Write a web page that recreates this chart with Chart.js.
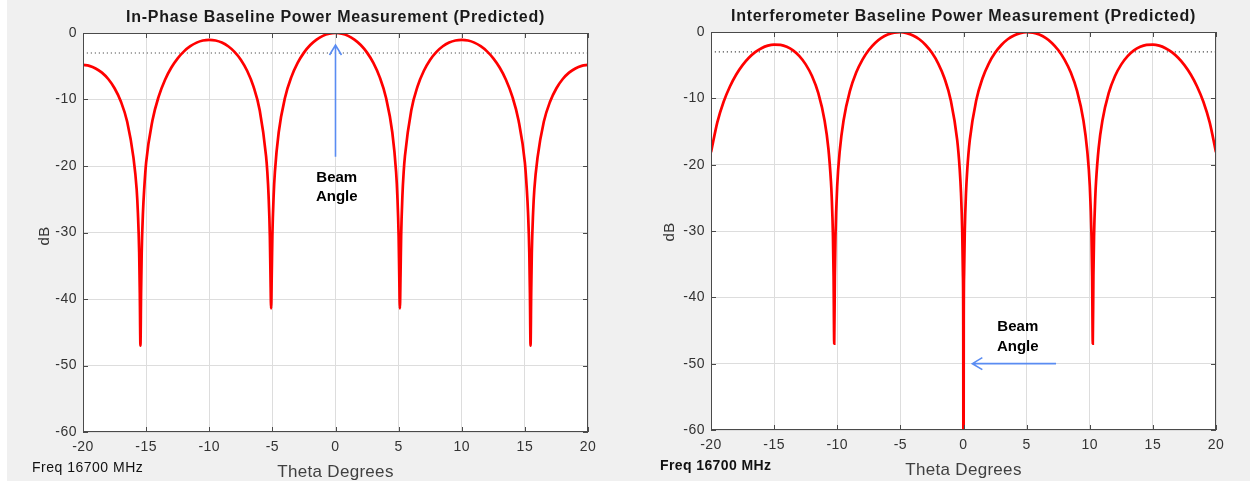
<!DOCTYPE html>
<html><head><meta charset="utf-8">
<script src="https://cdn.jsdelivr.net/npm/chart.js@4.4.1/dist/chart.umd.min.js"></script>
<style>
html,body{margin:0;padding:0;background:#f0f0f0;}
body{width:1250px;height:481px;position:relative;overflow:hidden;}
#strip{position:absolute;left:0;top:0;width:7px;height:481px;background:#fff;}
.wrap{position:absolute;top:0;width:625px;height:481px;}
#w1{left:0;}
#w2{left:625px;}
canvas{display:block;}
</style></head><body>
<div id="strip"></div>
<div class="wrap" id="w1"><canvas id="c1" width="625" height="481"></canvas></div>
<div class="wrap" id="w2"><canvas id="c2" width="625" height="481"></canvas></div>
<script>
// ---------- data ----------
const xTickValues = [-20,-15,-10,-5,0,5,10,15,20];
const yTickValues = [0,-10,-20,-30,-40,-50,-60];

const thetaInPhase = [-20,-19.5,-19,-18.5,-18,-17.5,-17,-16.5,-16,-15.75,-15.65,-15.55,-15.5,-15.45,-15.4,-15.35,-15.25,-15.15,-15,-14.5,-14,-13.5,-13,-12.5,-12,-11.5,-11,-10.5,-10,-9.5,-9,-8.5,-8,-7.5,-7,-6.5,-6,-5.5,-5.4,-5.3,-5.2,-5.15,-5.1,-5.05,-5,-4.9,-4.8,-4.5,-4,-3.5,-3,-2.5,-2,-1.5,-1,-0.5,
  0,0.5,1,1.5,2,2.5,3,3.5,4,4.5,4.8,4.9,5,5.05,5.1,5.15,5.2,5.3,5.4,5.5,6,6.5,7,7.5,8,8.5,9,9.5,10,10.5,11,11.5,12,12.5,13,13.5,14,14.5,15,15.15,15.25,15.35,15.4,15.45,15.5,15.55,15.65,15.75,16,16.5,17,17.5,18,18.5,19,19.5,20];
const inPhaseDb = [-4.80,-4.95,-5.33,-5.96,-6.92,-8.31,-10.30,-13.35,-18.79,-23.5,-27.1,-33.0,-39.1,-47.0,-39.1,-33.0,-27.0,-23.4,-19.49,-13.15,-9.52,-7.02,-5.19,-3.81,-2.76,-1.99,-1.45,-1.13,-1.02,-1.12,-1.44,-1.99,-2.83,-4.01,-5.68,-8.02,-11.64,-18.5,-20.9,-24.5,-30.5,-36.5,-41.4,-36.5,-30.5,-24.5,-20.9,-14.96,-9.73,-6.64,-4.50,-2.95,-1.81,-0.99,-0.43,-0.11,
  0,-0.11,-0.43,-0.99,-1.81,-2.95,-4.50,-6.64,-9.73,-14.96,-20.9,-24.5,-30.5,-36.5,-41.4,-36.5,-30.5,-24.5,-20.9,-18.5,-11.64,-8.02,-5.68,-4.01,-2.83,-1.99,-1.44,-1.12,-1.02,-1.13,-1.45,-1.99,-2.76,-3.81,-5.19,-7.02,-9.52,-13.15,-19.49,-23.4,-27.0,-33.0,-39.1,-47.0,-39.1,-33.0,-27.1,-23.5,-18.79,-13.35,-10.30,-8.31,-6.92,-5.96,-5.33,-4.95,-4.80];

const thetaInterf = [-20,-19.5,-19,-18.5,-18,-17.5,-17,-16.5,-16,-15.5,-15,-14.5,-14,-13.5,-13,-12.5,-12,-11.5,-11,-10.7,-10.5,-10.44,-10.34,-10.29,-10.24,-10.19,-10.14,-10,-9.8,-9.5,-9,-8.5,-8,-7.5,-7,-6.5,-6,-5.5,-5,-4.5,-4,-3.5,-3,-2.5,-2,-1.5,-1,-0.5,-0.3,-0.2,-0.1,-0.05,-0.02,
  0,0.02,0.05,0.1,0.2,0.3,0.5,1,1.5,2,2.5,3,3.5,4,4.5,5,5.5,6,6.5,7,7.5,8,8.5,9,9.5,9.8,10,10.14,10.19,10.24,10.29,10.34,10.44,10.5,10.7,11,11.5,12,12.5,13,13.5,14,14.5,15,15.5,16,16.5,17,17.5,18,18.5,19,19.5,20];
const interferometerDb = [-18.14,-13.62,-10.52,-8.21,-6.41,-4.99,-3.89,-3.04,-2.44,-2.05,-1.89,-1.94,-2.23,-2.78,-3.64,-4.88,-6.64,-9.22,-13.37,-17.6,-22.53,-24.8,-30.8,-36.8,-47.0,-36.8,-30.8,-23.1,-17.9,-13.33,-8.92,-6.12,-4.16,-2.72,-1.65,-0.90,-0.39,-0.10,-0.03,-0.17,-0.52,-1.10,-1.96,-3.14,-4.76,-7.01,-10.36,-16.27,-20.7,-24.2,-30.2,-36.2,-44.2,
  -80,-44.2,-36.2,-30.2,-24.2,-20.7,-16.27,-10.36,-7.01,-4.76,-3.14,-1.96,-1.10,-0.52,-0.17,-0.03,-0.10,-0.39,-0.90,-1.65,-2.72,-4.16,-6.12,-8.92,-13.33,-17.9,-23.1,-30.8,-36.8,-47.0,-36.8,-30.8,-24.8,-22.53,-17.6,-13.37,-9.22,-6.64,-4.88,-3.64,-2.78,-2.23,-1.94,-1.89,-2.05,-2.44,-3.04,-3.89,-4.99,-6.41,-8.21,-10.52,-13.62,-18.14];

const halfPowerDb = -3;
const halfPowerTheta = [-19.7, 20];

const titles = ['In-Phase Baseline Power Measurement (Predicted)', 'Interferometer Baseline Power Measurement (Predicted)'];
const xLabelText = 'Theta Degrees';
const yLabelText = 'dB';
const freqText = 'Freq 16700 MHz';
const beamLines = ['Beam', 'Angle'];

// annotation anchors in data units (theta, dB)
const beamArrowLeft = {from:[0,-18.6], to:[0,-1.8], text:[0.1,-21.8,-24.7]};
const beamArrowRight = {from:[7.33,-50], to:[0.7,-50], text:[4.3,-44.5,-47.5]};

// ---------- drawing ----------
const FONT = '"Liberation Sans", Arial, sans-serif';

function figPlugin(o){
  return {
    id:'fig'+o.key,
    beforeDraw(chart){
      const {ctx, chartArea:a} = chart;
      ctx.save();
      ctx.fillStyle = '#ffffff';
      ctx.fillRect(a.left, a.top, a.right-a.left, a.bottom-a.top);
      ctx.restore();
      ctx.letterSpacing = '0.5px';
    },
    afterDraw(chart){
      const {ctx, chartArea:a, scales:{x, y}} = chart;
      ctx.save();
      // box
      ctx.strokeStyle = '#4a4a4a';
      ctx.lineWidth = 1;
      ctx.strokeRect(a.left+0.5, a.top+0.5, a.right-a.left-1, a.bottom-a.top-1);
      // inward ticks
      ctx.beginPath();
      xTickValues.forEach(v=>{
        const px = Math.round(x.getPixelForValue(v))+0.5;
        ctx.moveTo(px, a.bottom); ctx.lineTo(px, a.bottom-5);
        ctx.moveTo(px, a.top); ctx.lineTo(px, a.top+5);
      });
      yTickValues.forEach(v=>{
        const py = Math.round(y.getPixelForValue(v))+0.5;
        ctx.moveTo(a.left, py); ctx.lineTo(a.left+5, py);
        ctx.moveTo(a.right, py); ctx.lineTo(a.right-5, py);
      });
      ctx.stroke();

      const cx = (a.left+a.right)/2;
      // title
      ctx.fillStyle = '#1a1a1a';
      ctx.font = 'bold 16px '+FONT;
      ctx.letterSpacing = '0.72px';
      ctx.textAlign = 'center';
      ctx.textBaseline = 'middle';
      ctx.fillText(o.title, cx, o.titleY);
      // x label
      ctx.font = '17px '+FONT;
      ctx.letterSpacing = '0.3px';
      ctx.fillStyle = '#404040';
      ctx.fillText(xLabelText, cx, o.xLabelY);
      // freq
      ctx.font = o.freqFont;
      ctx.letterSpacing = o.freqSpacing;
      ctx.fillStyle = '#111111';
      ctx.textAlign = 'left';
      ctx.fillText(freqText, o.freqX, o.freqY);
      // y label
      ctx.save();
      ctx.translate(o.yLabelX, o.yLabelY);
      ctx.rotate(-Math.PI/2);
      ctx.font = '15px '+FONT;
      ctx.letterSpacing = '0.3px';
      ctx.fillStyle = '#333333';
      ctx.textAlign = 'center';
      ctx.fillText(yLabelText, 0, 0);
      ctx.restore();

      // beam angle annotation
      const an = o.ann;
      const x1 = x.getPixelForValue(an.from[0]), y1 = y.getPixelForValue(an.from[1]);
      const x2 = x.getPixelForValue(an.to[0]), y2 = y.getPixelForValue(an.to[1]);
      ctx.strokeStyle = '#5a8cf2';
      ctx.lineWidth = 1.6;
      ctx.beginPath();
      ctx.moveTo(x1, y1); ctx.lineTo(x2, y2);
      const ang = Math.atan2(y2-y1, x2-x1);
      const L = 10, W = 6;
      const bx = x2 - L*Math.cos(ang), by = y2 - L*Math.sin(ang);
      ctx.moveTo(bx + W*Math.sin(ang), by - W*Math.cos(ang));
      ctx.lineTo(x2, y2);
      ctx.lineTo(bx - W*Math.sin(ang), by + W*Math.cos(ang));
      ctx.stroke();
      ctx.fillStyle = '#000000';
      ctx.font = 'bold 15px '+FONT;
      ctx.letterSpacing = '0px';
      ctx.textAlign = 'center';
      ctx.textBaseline = 'middle';
      const tx = x.getPixelForValue(an.text[0]);
      ctx.fillText(beamLines[0], tx, y.getPixelForValue(an.text[1]));
      ctx.fillText(beamLines[1], tx, y.getPixelForValue(an.text[2]));
      ctx.restore();
    }
  };
}

function makeChart(id, theta, db, o){
  const tickFont = {family:FONT, size:14};
  return new Chart(document.getElementById(id), {
    type:'line',
    data:{datasets:[
      {data: theta.map((t,i)=>({x:t, y:db[i]})), borderColor:'#ff0000', borderWidth:2.7,
       pointRadius:0, cubicInterpolationMode:'monotone', clip:0, order:0, fill:false},
      {data: halfPowerTheta.map(t=>({x:t, y:halfPowerDb})), borderColor:'#505050', borderWidth:1.1,
       borderDash:[1.2,2.8], pointRadius:0, clip:0, order:1, fill:false}
    ]},
    options:{
      responsive:false, animation:false, events:[],
      layout:{padding:{left:0, right:o.padR, top:o.top, bottom:o.padB}},
      plugins:{legend:{display:false}, tooltip:{enabled:false}, title:{display:false}},
      scales:{
        x:{type:'linear', min:-20, max:20,
           afterBuildTicks:s=>{s.ticks = xTickValues.map(v=>({value:v}));},
           afterFit:s=>{s.height = 20;},
           grid:{color:'#dddddd', drawTicks:false}, border:{display:false},
           ticks:{color:'#333333', font:tickFont, padding:7, maxRotation:0, autoSkip:false}},
        y:{type:'linear', min:-60, max:0,
           afterBuildTicks:s=>{s.ticks = yTickValues.map(v=>({value:v}));},
           afterFit:s=>{s.width = o.left;},
           grid:{color:'#dddddd', drawTicks:false}, border:{display:false},
           ticks:{color:'#333333', font:tickFont, padding:6}}
      }
    },
    plugins:[figPlugin(o)]
  });
}

makeChart('c1', thetaInPhase, inPhaseDb, {
  key:1, left:83, padR:625-588, top:33, padB:481-432-20,
  title:titles[0], titleY:18, xLabelY:472, yLabelX:45, yLabelY:236,
  freqX:32, freqY:468, freqFont:'14px '+FONT, freqSpacing:'0.5px',
  ann:beamArrowLeft
});
makeChart('c2', thetaInterf, interferometerDb, {
  key:2, left:86, padR:625-591, top:32, padB:481-430-20,
  title:titles[1], titleY:17, xLabelY:470, yLabelX:45, yLabelY:232,
  freqX:35, freqY:466, freqFont:'bold 14px '+FONT, freqSpacing:'0.4px',
  ann:beamArrowRight
});
</script>
</body></html>
